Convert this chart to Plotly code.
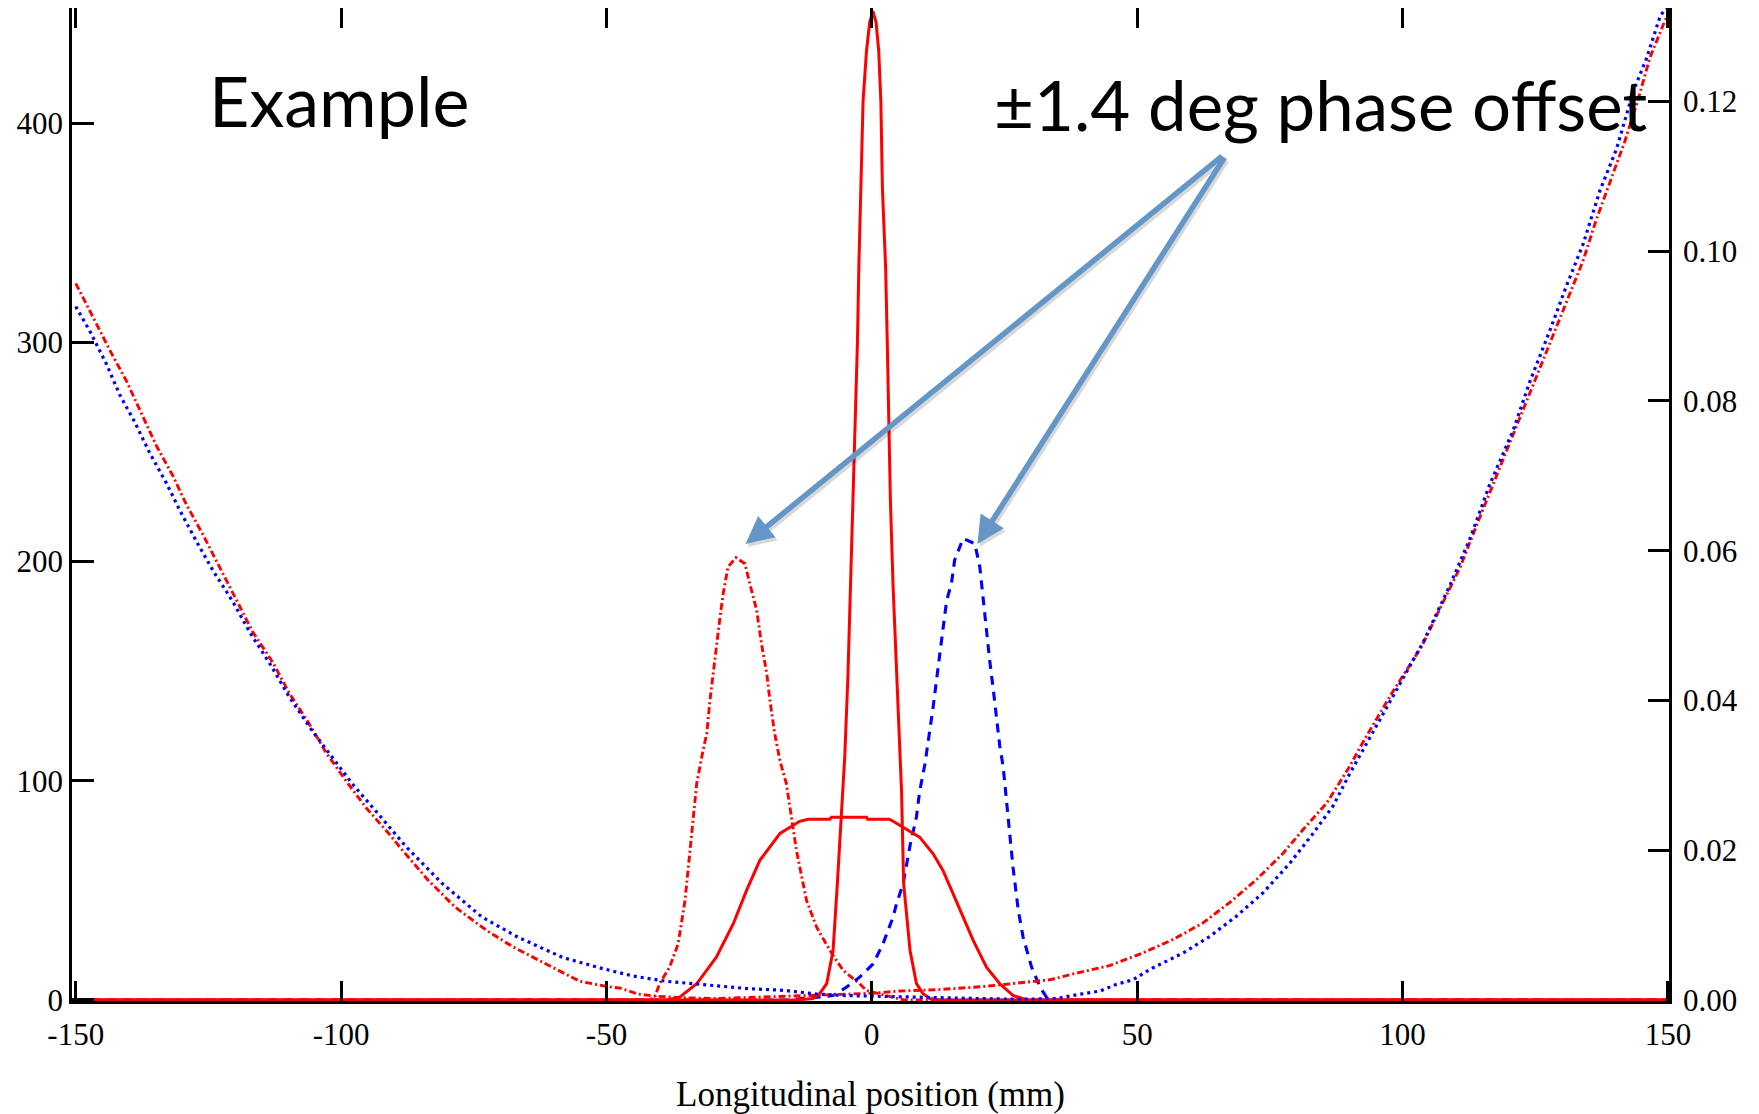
import plotly.graph_objects as go

# ---------------- data ----------------
x_ticks = [-150, -100, -50, 0, 50, 100, 150]
x_tick_labels = ["-150", "-100", "-50", "0", "50", "100", "150"]
y_ticks = [0, 100, 200, 300, 400]
y_tick_labels = ["0", "100", "200", "300", "400"]
y2_ticks = [0.0, 0.02, 0.04, 0.06, 0.08, 0.10, 0.12]
y2_tick_labels = ["0.00", "0.02", "0.04", "0.06", "0.08", "0.10", "0.12"]

# narrow central peak (red solid, left axis)
narrow_x = [-150, -14, -11.1, -9.8, -8.5, -7.3, -6.5, -5.4, -5.1, -4.5, -4.0, -3.5, -3.0, -2.7,
            -2.45, -2.05, -1.65, -1.0, -0.4, 0.2, 0.8, 1.3, 1.7, 2.0, 2.6, 2.9, 3.1, 3.5, 4.0,
            4.65, 5.3, 5.6, 6.0, 7.2, 8.4, 9.6, 10.9, 13, 150]
narrow_y = [0, 0, 0.7, 3, 7.5, 22.6, 53, 95, 111, 148, 189, 228, 274, 301,
            334, 370, 410, 433, 446, 451, 446, 433, 410, 370, 334, 301, 274, 228, 189,
            148, 111, 95, 53, 22.6, 7.5, 3, 0.7, 0, 0]

# wide flat-top profile (red solid, left axis)
wide_x = [-150, -38.7, -36.2, -33.0, -29.3, -26.1, -23.6, -21.1, -17.3, -13.6, -12.0, -7.9,
          -7.6, -1.0, -0.8, 3.3, 4.0, 5.3, 9.0, 11.55, 13.4, 15.3, 17.2, 19.1, 21.6, 24.1,
          26.6, 29.2, 150]
wide_y = [0, 0, 1.3, 7.4, 19.5, 34.8, 50, 63.7, 76, 81.5, 82.4, 82.4,
          83.4, 83.4, 82.5, 82.5, 81.5, 79.6, 74.3, 66.7, 59.1, 48.5, 37.8, 27.2, 15.0, 7.4,
          2.1, 0, 0]

# -1.4 deg peak (red dash-dot, left axis)
ddpeak_x = [-150, -42, -40.9, -40.0, -38.1, -36.5, -35.2, -34.3, -33.0, -31.8, -31.1, -30.5,
            -29.9, -29.3, -28.6, -28.0, -27.1, -25.6, -23.9, -23.0, -21.7, -20.8, -19.8,
            -19.2, -18.3, -17.3, -16.1, -14.2, -12.3, -10.4, -7.9, -5.4, -2.3, -1.0, 2.0,
            6.0, 150]
ddpeak_y = [0, 0, 1.3, 7.4, 15, 25.6, 45.4, 68.2, 98.7, 113.9, 121.5, 136.7,
            148.9, 162.6, 174.7, 185.4, 197.5, 201.8, 199, 190, 177.8, 162.6, 148.9,
            136.7, 121.5, 109, 98.7, 68.2, 45.4, 33.2, 22.6, 13.5, 7.4, 4.3, 2.5,
            0, 0]

# +1.4 deg peak (blue dashed, left axis)
bdpeak_x = [-150, -15.9, -13.6, -7.3, -4.8, -2.3, 0.25, 2.1, 4.0, 4.65, 5.9, 7.2, 8.4, 9.0,
            10.0, 10.9, 11.55, 12.5, 13.1, 14.1, 15.0, 15.6, 17.2, 19.4, 20.35, 21.0, 21.6,
            22.2, 22.9, 23.5, 24.1, 24.75, 25.4, 26.0, 26.6, 27.6, 28.5, 30.1, 31.7, 32.9,
            34.0, 150]
bdpeak_y = [0, 0, 0.5, 2.0, 5.8, 10.4, 16.5, 25.6, 37.8, 43.9, 53, 70.5, 83.4, 95,
            107.5, 121.5, 133.6, 151.9, 164, 182.3, 190, 200.6, 210.5, 208.2, 197.5, 182.3, 167.1,
            155, 141.3, 129.1, 116, 106.3, 91, 75.9, 60.6, 40.8, 28.7, 15, 5.8, 1.3,
            0, 0]

# red dash-dot parabola (right axis)
rpar_x = [-150, -146.4, -143.3, -140.4, -137.6, -134.8, -131.7, -129.1, -126.0, -122.9, -119.7,
          -116.6, -112.8, -109.7, -106.2, -102.8, -99.0, -95.2, -91.1, -88.2, -83.6, -78.5,
          -72.6, -67.6, -60.0, -55.0, -49.9, -47.5, -44.0, -40.6, -35, -30, -25, -20, -15,
          -10, -5, 0, 5.3, 12.8, 21.0, 27.9, 33.5, 38.6, 44.8, 51.1, 56.8, 62.4, 67.4, 72.5,
          77.5, 81.3, 85.7, 89.7, 93, 98, 103.6, 107.0, 110.8, 113.9, 116.4, 119.6, 122.1,
          125.2, 128.4, 131.2, 134.0, 136.5, 139.0, 141.9, 144.4, 146.6, 149.1, 150]
rpar_y = [0.0957, 0.0907, 0.0864, 0.0826, 0.0783, 0.0740, 0.0700, 0.0661, 0.0621, 0.0578, 0.0534,
          0.0491, 0.0450, 0.0409, 0.0371, 0.0330, 0.0292, 0.0256, 0.0223, 0.0198, 0.0160, 0.0124,
          0.0093, 0.0071, 0.0043, 0.0025, 0.0018, 0.0016, 0.0008, 0.0005, 0.0003, 0.0002, 0.0003,
          0.0004, 0.0005, 0.0006, 0.0008, 0.0009, 0.0012, 0.0014, 0.0018, 0.0023, 0.0027, 0.0036,
          0.0046, 0.0063, 0.0081, 0.0103, 0.0130, 0.0161, 0.0196, 0.0228, 0.0263, 0.0308, 0.0350,
          0.0410, 0.0472, 0.0522, 0.0577, 0.0633, 0.0677, 0.0732, 0.0777, 0.0832, 0.0887, 0.0937,
          0.0987, 0.1042, 0.1092, 0.1147, 0.1203, 0.1258, 0.1302, 0.1316]

# blue dotted parabola (right axis)
bpar_x = [-150, -147.4, -144.2, -141.7, -138.9, -136.1, -132.9, -130.4, -127.3, -124.1, -120.4,
          -117.2, -113.5, -109.7, -105.3, -101.5, -97.7, -93.3, -89.6, -87.8, -81.0, -73.5,
          -66.7, -58.3, -51.3, -45.0, -38.7, -32.4, -23.0, -16.7, -10.4, -5, 0, 8.4, 20, 28,
          32.9, 34.8, 38.6, 43.0, 46.1, 49.2, 52.4, 58.7, 63.7, 68.7, 73.7, 78.8, 83.2, 86.9,
          90.1, 95, 100, 103.9, 109.0, 112.7, 116.4, 120.8, 124.0, 127.7, 130.9, 134.0, 137.2,
          140.3, 143.5, 146.0, 148.5, 149.6]
bpar_y = [0.0926, 0.0894, 0.0849, 0.0808, 0.0772, 0.0731, 0.0690, 0.0654, 0.0613, 0.0573, 0.0532,
          0.0491, 0.0450, 0.0404, 0.0358, 0.0322, 0.0287, 0.0251, 0.0220, 0.0205, 0.0156, 0.0111,
          0.0084, 0.0057, 0.0043, 0.0032, 0.0025, 0.0021, 0.0015, 0.0013, 0.0008, 0.0006, 0.0005,
          0.0004, 0.0002, 0.0001, 0.0001, 0.0002, 0.0007, 0.0012, 0.0021, 0.0027, 0.0041, 0.0063,
          0.0085, 0.0112, 0.0143, 0.0183, 0.0223, 0.0259, 0.0303, 0.0365, 0.0430, 0.0478, 0.0555,
          0.0616, 0.0688, 0.0760, 0.0826, 0.0893, 0.0954, 0.1009, 0.1081, 0.1136, 0.1214, 0.1258,
          0.1313, 0.1325]

RED = "#ff0000"
BLUE = "#0000ff"
ARROW = "#6496c8"
SERIF = "Liberation Serif, Times New Roman, serif"
SANS = "Lato, Open Sans, sans-serif"
DASHDOT = "7px,3px,2px,3px"

fig = go.Figure()

# right-axis parabolas (drawn first)
fig.add_trace(go.Scatter(x=rpar_x, y=rpar_y, yaxis="y2", mode="lines",
                         line=dict(color=RED, width=2.9, dash=DASHDOT),
                         showlegend=False, hoverinfo="skip"))
fig.add_trace(go.Scatter(x=bpar_x, y=bpar_y, yaxis="y2", mode="lines",
                         line=dict(color=BLUE, width=3.2, dash="3px,4px"),
                         showlegend=False, hoverinfo="skip"))
# offset peaks
fig.add_trace(go.Scatter(x=ddpeak_x, y=ddpeak_y, mode="lines",
                         line=dict(color=RED, width=2.9, dash=DASHDOT),
                         showlegend=False, hoverinfo="skip"))
fig.add_trace(go.Scatter(x=bdpeak_x, y=bdpeak_y, mode="lines",
                         line=dict(color=BLUE, width=3.1, dash="9px,7px"),
                         showlegend=False, hoverinfo="skip"))
# solid red profiles
fig.add_trace(go.Scatter(x=wide_x, y=wide_y, mode="lines",
                         line=dict(color=RED, width=3.0),
                         showlegend=False, hoverinfo="skip"))
fig.add_trace(go.Scatter(x=narrow_x, y=narrow_y, mode="lines",
                         line=dict(color=RED, width=3.0),
                         showlegend=False, hoverinfo="skip"))

axis_common = dict(showgrid=False, zeroline=False, showline=True, linecolor="black",
                   linewidth=2.5, ticks="inside", tickcolor="black", tickwidth=2.5,
                   tickfont=dict(family=SERIF, size=31, color="black"))

# the page body adds an 8 px offset, so the figure is 8 px smaller than the window
fig.update_layout(
    width=1751, height=1106,
    margin=dict(l=64, r=90, t=0, b=113, autoexpand=False),
    paper_bgcolor="white", plot_bgcolor="white",
    showlegend=False,
    xaxis=dict(range=[-150.7, 150.2], tickvals=x_ticks, ticktext=x_tick_labels,
               ticklen=20, mirror="ticks", ticklabelstandoff=4,
               title=dict(text="Longitudinal position (mm)",
                          font=dict(family=SERIF, size=35, color="black"), standoff=34),
               **axis_common),
    yaxis=dict(range=[-0.46, 452.5], tickvals=y_ticks, ticktext=y_tick_labels,
               ticklen=22, **axis_common),
    yaxis2=dict(range=[-0.00013, 0.13246], tickvals=y2_ticks, ticktext=y2_tick_labels,
                ticklen=21, overlaying="y", side="right", ticklabelstandoff=5, **axis_common),
)

# text labels
fig.add_annotation(text="Example", xref="paper", yref="paper", x=0.1675, y=0.9071,
                   xanchor="center", yanchor="middle", showarrow=False,
                   font=dict(family=SANS, size=70, color="black"))
fig.add_annotation(text="±1.4 deg phase offset", xref="paper", yref="paper", x=0.7815, y=0.9029,
                   xanchor="center", yanchor="middle", showarrow=False,
                   font=dict(family=SANS, size=69, color="black"))

# arrows (with a soft shadow)
for tip_x, tip_y, ax, ay in [(-23.8, 208.0, 478, -389), (19.9, 208.0, 248, -388)]:
    fig.add_annotation(x=tip_x, y=tip_y, xref="x", yref="y", ax=ax, ay=ay,
                       axref="pixel", ayref="pixel", text="", showarrow=True,
                       arrowhead=2, arrowsize=1, arrowwidth=5.5,
                       arrowcolor="rgba(0,0,0,0.15)", xshift=2, yshift=-3)
    fig.add_annotation(x=tip_x, y=tip_y, xref="x", yref="y", ax=ax, ay=ay,
                       axref="pixel", ayref="pixel", text="", showarrow=True,
                       arrowhead=2, arrowsize=1, arrowwidth=5.5, arrowcolor=ARROW)

fig.write_html("out.html")
